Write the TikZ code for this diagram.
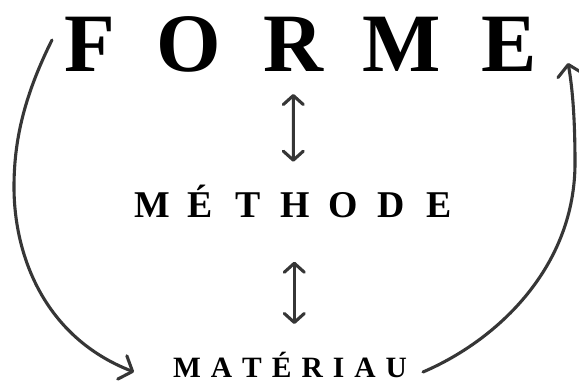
\documentclass[tikz,border=0pt]{standalone}
\usepackage{fontspec}
\setmainfont{Liberation Serif}
\usetikzlibrary{arrows.meta}
\definecolor{linegray}{HTML}{363636}
\newcommand\lgap{\hspace{10pt}}
\begin{document}
\begin{tikzpicture}[x=1pt,y=1pt,
  conn/.style={draw=linegray, line width=3.1pt, line cap=round, line join=round},
  onetip/.style={-{Straight Barb[length=11pt,width=25pt,round]}},
  twotip/.style={{Straight Barb[length=9pt,width=20pt,round]}-{Straight Barb[length=9pt,width=20pt,round]}},
  word/.style={inner sep=0pt, anchor=base, font=\bfseries, text=black}]
\useasboundingbox[fill=white] (0,0) rectangle (579,385);
\node[word] (forme) at (301.4,313) {\fontsize{83}{83}\selectfont\makebox[98pt]{F}\makebox[101.5pt]{O}\makebox[107.5pt]{R}\makebox[108.25pt]{M}\makebox[106.5pt]{E}};
\node[word] (methode) at (295.5,167) {\fontsize{37.8}{38}\selectfont\makebox[47.83pt]{M}\makebox[47.83pt]{É}\makebox[47.83pt]{T}\makebox[47.83pt]{H}\makebox[47.83pt]{O}\makebox[47.83pt]{D}\makebox[47.83pt]{E}};
\node[word] (materiau) at (290,7) {\fontsize{29.5}{30}\selectfont M\lgap A\lgap T\lgap É\lgap R\lgap I\lgap A\lgap U};
% vertical double arrows
\draw[conn,twotip] ([xshift=-8.1pt,yshift=-22pt]forme.base) -- ([xshift=-2.2pt,yshift=56.3pt]methode.base);
\draw[conn,twotip] ([xshift=-1.2pt,yshift=-43.7pt]methode.base) -- ([xshift=4.3pt,yshift=54pt]materiau.base);
% left curve: FORME -> MATERIAU
\draw[conn,onetip] ([xshift=-249.4pt,yshift=32pt]forme.base) .. controls +(-30,-60) and +(0,42) .. (14,198) .. controls +(0,-68) and +(-90,35) .. ([xshift=-156pt,yshift=6pt]materiau.base);
% right curve: MATERIAU -> FORME
\draw[conn,onetip] ([xshift=133pt,yshift=6pt]materiau.base) .. controls +(77,33) and +(0,-102) .. (575,222) .. controls +(0,48) and +(4,-22) .. ([xshift=266.6pt,yshift=9pt]forme.base);
\end{tikzpicture}
\end{document}
